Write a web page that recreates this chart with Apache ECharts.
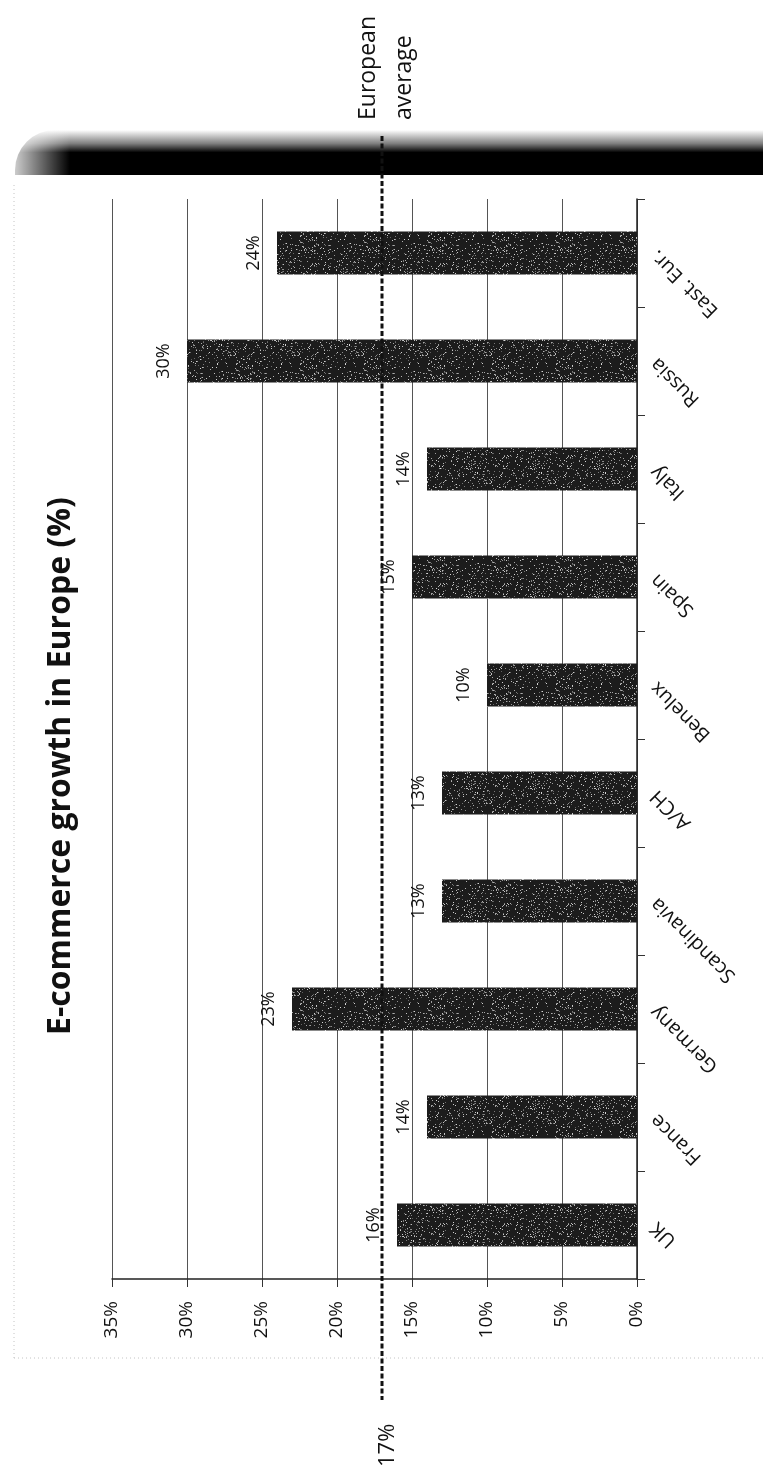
<!DOCTYPE html>
<html>
<head>
<meta charset="utf-8">
<script src="https://cdn.jsdelivr.net/npm/echarts@6/dist/echarts.min.js"></script>
<style>
  html, body { margin: 0; padding: 0; background: #fff; }
  #chart { width: 763px; height: 1477px; }
</style>
</head>
<body>
<div id="chart"></div>
<script>
// Markets, listed from the bottom of the category axis upwards
const categories = ['UK', 'France', 'Germany', 'Scandinavia', 'A/CH', 'Benelux', 'Spain', 'Italy', 'Russia', 'East. Eur.'];
// Annual e-commerce growth per market, in percent
const growth = [16, 14, 23, 13, 13, 10, 15, 14, 30, 24];
// Value axis range and step (percent)
const axisMin = 0;
const axisMax = 35;
const axisStep = 5;
// European average growth, in percent
const europeanAverage = 17;
const averageLabelLines = ['European', 'average'];
const titleText = 'E-commerce growth in Europe (%)';

const FONT = '"Open Sans", "Noto Sans", "DejaVu Sans", sans-serif';
const INK = '#111';

// Speckled dark fill for the bars (printed-toner look), deterministic hash noise
function speckleTile() {
  const size = 64;
  const c = document.createElement('canvas');
  c.width = size; c.height = size;
  const ctx = c.getContext('2d');
  ctx.fillStyle = '#1c1c1c';
  ctx.fillRect(0, 0, size, size);
  let h = 2166136261;
  for (let i = 0; i < size * size; i++) {
    h ^= i; h = Math.imul(h, 16777619) >>> 0;
    const r = (h & 0xffff) / 0xffff;
    if (r < 0.10) {
      const g = 90 + ((h >>> 16) & 0x7f);
      ctx.fillStyle = 'rgb(' + g + ',' + g + ',' + g + ')';
      ctx.fillRect(i % size, Math.floor(i / size), 1, 1);
    }
  }
  return c;
}
const barFill = { image: speckleTile(), repeat: 'repeat' };

const chart = echarts.init(document.getElementById('chart'), null, { renderer: 'canvas' });

chart.setOption({
  animation: false,
  backgroundColor: '#fff',
  grid: { left: 112, right: 126, top: 199, bottom: 198, containLabel: false },
  xAxis: {
    type: 'value',
    min: axisMin,
    max: axisMax,
    interval: axisStep,
    inverse: true,
    position: 'bottom',
    axisLine: { show: true, lineStyle: { color: '#222', width: 1.5 } },
    axisTick: { show: true, length: 8, lineStyle: { color: '#333', width: 1 } },
    axisLabel: {
      rotate: 90, margin: 22, fontSize: 19, color: INK, fontFamily: FONT,
      formatter: v => v + '%'
    },
    splitLine: { show: true, lineStyle: { color: '#555', width: 1 } }
  },
  yAxis: {
    type: 'category',
    data: categories,
    position: 'right',
    axisLine: { show: true, lineStyle: { color: '#222', width: 1.5 } },
    axisTick: { show: true, length: 8, lineStyle: { color: '#333', width: 1 } },
    axisLabel: { rotate: 135, margin: 17, fontSize: 20, color: INK, fontFamily: FONT },
    splitLine: { show: false }
  },
  series: [{
    type: 'bar',
    data: growth,
    barWidth: 43,
    itemStyle: { color: barFill },
    label: {
      show: true,
      position: 'left',
      distance: 14,
      rotate: 90,
      align: 'center',
      verticalAlign: 'bottom',
      fontSize: 18,
      color: INK,
      fontFamily: FONT,
      formatter: p => p.value + '%'
    }
  }]
});

// Position of the average line from the value axis scale
const avgX = chart.convertToPixel({ xAxisIndex: 0 }, europeanAverage);

chart.setOption({
  graphic: [
    // faint page edges
    { type: 'line', silent: true, shape: { x1: 14, y1: 185, x2: 14, y2: 1358 },
      style: { stroke: '#c4c4c4', lineWidth: 1, lineDash: [1, 3] } },
    { type: 'line', silent: true, shape: { x1: 14, y1: 1358, x2: 763, y2: 1358 },
      style: { stroke: '#c4c4c4', lineWidth: 1, lineDash: [1, 3] } },
    // dark shadow band along the top of the page
    { type: 'rect', silent: true, z: 10,
      shape: { x: 15, y: 130, width: 748, height: 45, r: [40, 0, 0, 0] },
      style: { fill: new echarts.graphic.LinearGradient(0, 0, 0, 1, [
        { offset: 0, color: 'rgba(0,0,0,0)' },
        { offset: 0.3, color: 'rgba(0,0,0,0.5)' },
        { offset: 0.5, color: 'rgba(0,0,0,1)' },
        { offset: 1, color: 'rgba(0,0,0,1)' }
      ]) } },
    { type: 'rect', silent: true, z: 11,
      shape: { x: 15, y: 128, width: 55, height: 48 },
      style: { fill: new echarts.graphic.LinearGradient(0, 0, 1, 0, [
        { offset: 0, color: 'rgba(255,255,255,0.8)' },
        { offset: 1, color: 'rgba(255,255,255,0)' }
      ]) } },
    // European average line
    { type: 'line', silent: true, z: 20,
      shape: { x1: avgX, y1: 136, x2: avgX, y2: 1400 },
      style: { stroke: '#111', lineWidth: 3, lineDash: [5, 2.5] } },
    { type: 'text', silent: true, z: 20, x: avgX + 4, y: 120, rotation: Math.PI / 2,
      style: { text: averageLabelLines.join('\n'), font: '23px ' + FONT, fill: INK,
        textAlign: 'left', textVerticalAlign: 'middle', lineHeight: 36 } },
    { type: 'text', silent: true, z: 20, x: avgX + 6, y: 1467, rotation: Math.PI / 2,
      style: { text: europeanAverage + '%', font: '22px ' + FONT, fill: INK,
        textAlign: 'left', textVerticalAlign: 'middle' } },
    // chart title
    { type: 'text', silent: true, z: 20, x: 61, y: 766, rotation: Math.PI / 2,
      style: { text: titleText, font: 'bold 32px ' + FONT, fill: INK,
        textAlign: 'center', textVerticalAlign: 'middle' } }
  ]
});
</script>
</body>
</html>
